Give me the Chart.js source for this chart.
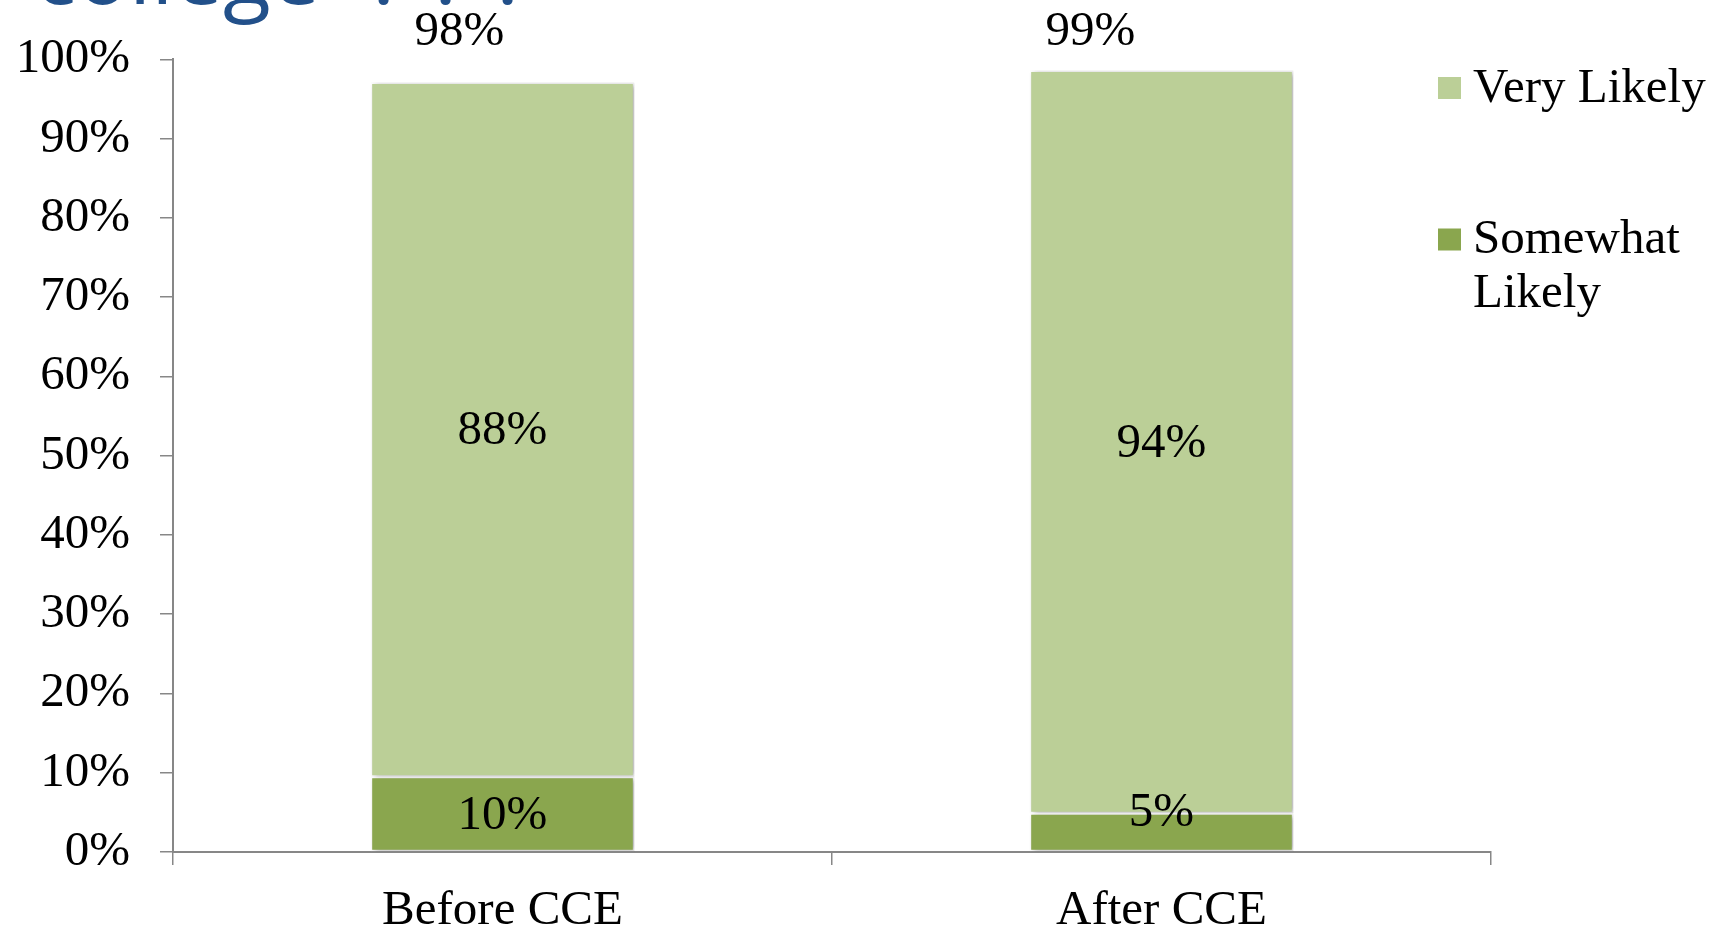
<!DOCTYPE html>
<html><head><meta charset="utf-8">
<script src="https://cdn.jsdelivr.net/npm/chart.js@4.4.1/dist/chart.umd.min.js"></script>
<style>html,body{margin:0;padding:0;background:#fff;overflow:hidden}#wrap{width:1731px;height:929px;position:relative}</style>
</head><body><div id="wrap"><canvas id="c" width="1731" height="929"></canvas></div>
<script>
// ---- data ----
const categories = ['Before CCE', 'After CCE'];
const seriesNames = ['Somewhat Likely', 'Very Likely'];
const somewhatLikely = [9.5, 4.9];
const veryLikely = [87.6, 93.7];
const somewhatLabels = ['10%', '5%'];
const veryLabels = ['88%', '94%'];
const totalLabels = ['98%', '99%'];
const yTickStep = 10;
const yMax = 100;
const titleText = 'college';
const titleDots = '. . .';

// ---- styles ----
const FONT = "'Liberation Serif', 'Times New Roman', serif";
const FS = 49;
const colSomewhat = '#8aa64e';
const colVery = '#bbcf97';
const axisColor = '#878787';

const segLabels = [somewhatLabels, veryLabels];
const somewhatNudge = [0, -21]; // Excel moved the small "5%" label upward
const totalXOffset = [-43, -71];

const plug = {
  id: 'custom',
  beforeDatasetsDraw(chart) {
    const ctx = chart.ctx;
    ctx.save();
    ctx.shadowColor = 'rgba(0,0,0,0.3)';
    ctx.shadowBlur = 6;
    ctx.shadowOffsetX = 3;
    ctx.shadowOffsetY = 1;
  },
  afterDatasetsDraw(chart) {
    const ctx = chart.ctx;
    ctx.restore();
    ctx.save();
    ctx.fillStyle = '#000';
    ctx.font = FS + 'px ' + FONT;
    ctx.textAlign = 'center';
    ctx.textBaseline = 'middle';
    chart.data.datasets.forEach((ds, di) => {
      const meta = chart.getDatasetMeta(di);
      meta.data.forEach((bar, i) => {
        const p = bar.getProps(['x', 'y', 'base'], true);
        const dy = di === 0 ? somewhatNudge[i] : 0;
        ctx.fillText(segLabels[di][i], p.x, (p.y + p.base) / 2 + dy + 2);
      });
    });
    const top = chart.getDatasetMeta(1);
    top.data.forEach((bar, i) => {
      const p = bar.getProps(['x'], true);
      ctx.fillText(totalLabels[i], p.x + totalXOffset[i], chart.chartArea.top - 27);
    });
    ctx.restore();
  },
  afterDraw(chart) {
    const ctx = chart.ctx;
    const ca = chart.chartArea;
    ctx.save();
    // title remnant (cut off by the top edge)
    ctx.fillStyle = '#22508a';
    ctx.font = "88px 'Open Sans', 'Noto Sans', sans-serif";
    ctx.textAlign = 'left';
    ctx.textBaseline = 'alphabetic';
    ctx.fillText(titleText, 34, 4);
    ctx.letterSpacing = '8px';
    ctx.fillText(titleDots, 372, 4);
    ctx.letterSpacing = '0px';
    // legend
    const items = [
      { text: [seriesNames[1]], color: colVery, cy: 88 },
      { text: ['Somewhat', 'Likely'], color: colSomewhat, cy: 239.5 }
    ];
    ctx.font = FS + 'px ' + FONT;
    ctx.textBaseline = 'middle';
    const sx = ca.right - 53;
    items.forEach(it => {
      ctx.fillStyle = it.color;
      ctx.fillRect(sx, it.cy - 11, 23, 22);
      ctx.fillStyle = '#000';
      it.text.forEach((t, k) => ctx.fillText(t, sx + 35, it.cy + 1 + k * 54));
    });
    ctx.restore();
  }
};

new Chart(document.getElementById('c'), {
  type: 'bar',
  data: {
    labels: categories,
    datasets: [
      { label: seriesNames[0], data: somewhatLikely, backgroundColor: colSomewhat, borderColor: '#ffffff', borderWidth: 1.5, borderSkipped: false },
      { label: seriesNames[1], data: veryLikely, backgroundColor: colVery, borderColor: '#ffffff', borderWidth: 1.5, borderSkipped: false }
    ]
  },
  options: {
    responsive: false,
    animation: false,
    devicePixelRatio: 1,
    layout: { padding: { top: 58, right: 240, left: 0, bottom: 0 } },
    plugins: { legend: { display: false }, tooltip: { enabled: false }, title: { display: false } },
    datasets: { bar: { categoryPercentage: 1, barPercentage: 0.4 } },
    scales: {
      x: {
        stacked: true,
        grid: { display: true, drawOnChartArea: false, drawTicks: true, tickLength: 13, color: axisColor, lineWidth: 1.5, offset: true },
        border: { display: true, color: axisColor, width: 2 },
        ticks: { color: '#000', font: { family: FONT, size: FS }, padding: 17, maxRotation: 0 },
        afterFit(s) { s.height = 77; }
      },
      y: {
        stacked: true,
        min: 0, max: yMax,
        grid: { display: true, drawOnChartArea: false, drawTicks: true, tickLength: 13, color: axisColor, lineWidth: 1.5 },
        border: { display: true, color: axisColor, width: 2 },
        ticks: { stepSize: yTickStep, color: '#000', font: { family: FONT, size: FS }, padding: 30, callback: v => v + '%' },
        afterFit(s) { s.width = 173; }
      }
    }
  },
  plugins: [plug]
});
</script></body></html>
